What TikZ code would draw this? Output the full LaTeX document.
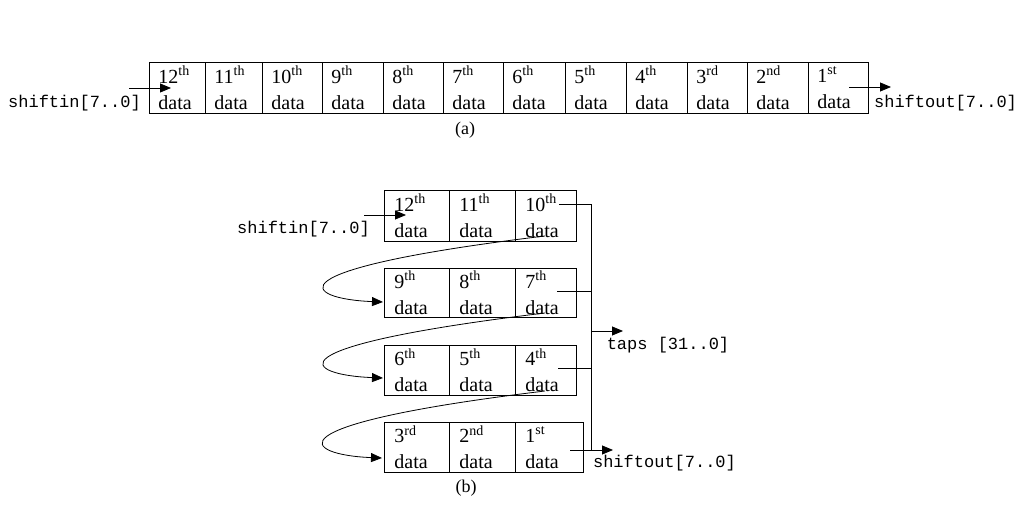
\documentclass[tikz,border=0pt]{standalone}
\usepackage{fontspec}
\setmainfont{Liberation Serif}
\newfontfamily\monofont{Liberation Mono}
\usetikzlibrary{arrows.meta}
\begin{document}
\begin{tikzpicture}[x=1pt,y=-1pt,
  cell/.style={draw, line width=0.8pt, inner xsep=10pt, inner ysep=0pt, anchor=north west,
    font=\fontsize{20}{26}\selectfont, align=left},
  lbl/.style={font=\monofont\fontsize{17}{20}\selectfont, inner sep=0pt},
  captxt/.style={font=\fontsize{18}{20}\selectfont, inner sep=0pt},
  arr/.style={-{Triangle[length=11pt,width=9pt]}, line width=0.8pt},
  wire/.style={line width=0.8pt}]
\useasboundingbox (0,0) rectangle (1030,510);

% ---------- (a) ----------
\foreach \cx/\w/\n/\s [evaluate=\w as \tw using \w-18] in
  {149/56/12/th, 205/57/11/th, 262/60/10/th, 322/61/9/th, 383/60/8/th, 443/60/7/th,
   503/62/6/th, 565/61/5/th, 626/61/4/th, 687/60/3/rd, 747/61/2/nd, 808/60/1/st}
  \node[cell, inner xsep=9pt, minimum width=\w pt, text width=\tw pt, minimum height=51pt] (a\n) at (\cx,62)
    {\n\textsuperscript{\s}\\data};

\node[lbl] (ainl) at (74.5,103) {shiftin[7..0]};
\node[lbl] (aoutl) at (945.5,103) {shiftout[7..0]};
\node[captxt] (acap) at (465,130) {(a)};
\coordinate (ain1) at (129,88);
\coordinate (ain2) at (171,88);
\coordinate (aout1) at (849,87);
\coordinate (aout2) at (891,87);
\draw[arr] (ain1) -- (ain2);
\draw[arr] (aout1) -- (aout2);

% ---------- (b) ----------
\foreach \cx/\cy/\w/\h/\n/\s [evaluate=\w as \tw using \w-20] in
  {384/190/65/51/12/th, 449/190/66/51/11/th, 515/190/61/51/10/th,
   384/268/65/49/9/th,  449/268/66/49/8/th,  515/268/61/49/7/th,
   384/345/65/50/6/th,  449/345/66/50/5/th,  515/345/61/50/4/th,
   384/422/65/50/3/rd,  449/422/66/50/2/nd,  515/422/68/50/1/st}
  \node[cell, minimum width=\w pt, text width=\tw pt, minimum height=\h pt] (b\n) at (\cx,\cy)
    {\n\textsuperscript{\s}\\data};

\node[lbl] (binl) at (303.5,229) {shiftin[7..0]};
\node[lbl] (boutl) at (664.5,463) {shiftout[7..0]};
\node[lbl] (tapsl) at (668,345) {taps [31..0]};
\node[captxt] (bcap) at (466,488) {(b)};

\coordinate (bin1) at (364,215);
\coordinate (bin2) at (406,215);
\draw[arr] (bin1) -- (bin2);

% taps bus
\coordinate (t10) at (559,204);
\coordinate (t7) at (557,291);
\coordinate (t4) at (558,368);
\coordinate (t1) at (570,450);
\coordinate (bust) at (591,204);
\coordinate (busb) at (591,450);
\coordinate (so) at (613,450);
\coordinate (tp1) at (591,331);
\coordinate (tp2) at (623,331);
\draw[wire] (t10) -- (bust) -- (busb);
\draw[wire] (t7) -- (t7 -| bust);
\draw[wire] (t4) -- (t4 -| bust);
\draw[arr] (t1) -- (so);
\draw[arr] (tp1) -- (tp2);

% wrap-around curves
\coordinate (w1s) at (545,236); \coordinate (w1e) at (383,302);
\coordinate (w2s) at (545,313); \coordinate (w2e) at (383,378);
\coordinate (w3s) at (545,391); \coordinate (w3e) at (382,458);
\draw[arr] (w1s) .. controls +(-282,34) and +(-78,-3) .. (w1e);
\draw[arr] (w2s) .. controls +(-282,34) and +(-78,-3) .. (w2e);
\draw[arr] (w3s) .. controls +(-282,34) and +(-78,-3) .. (w3e);
\end{tikzpicture}
\end{document}
